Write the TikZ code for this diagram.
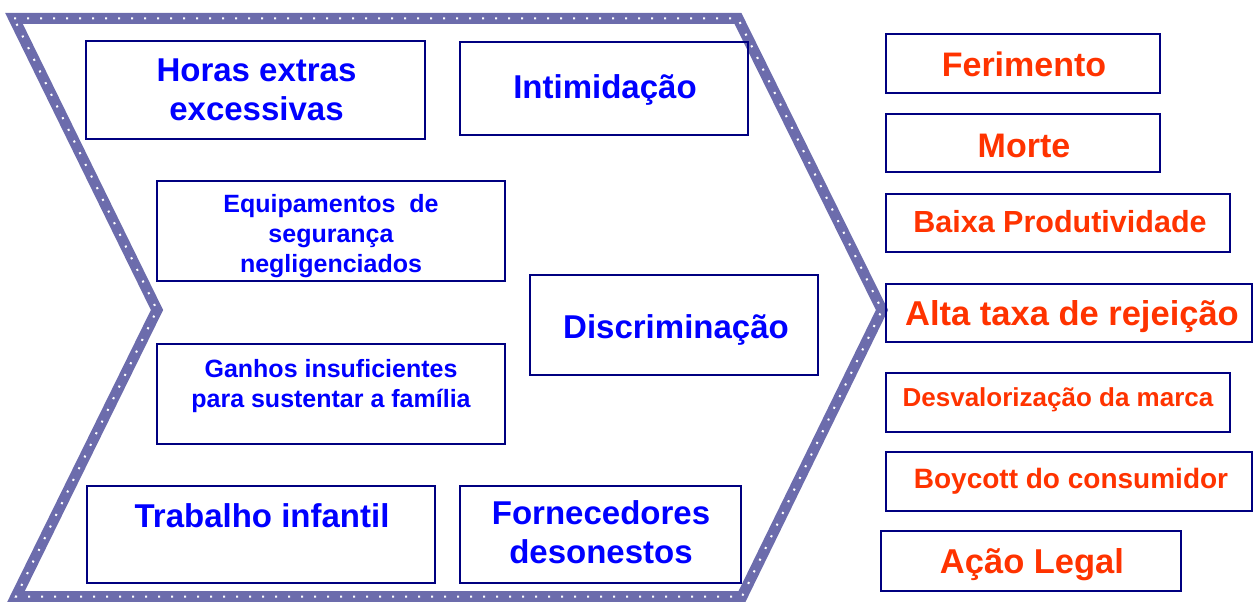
\documentclass[tikz,border=0pt]{standalone}
\usepackage{fontspec}
\setmainfont{Liberation Sans}
\usepackage{tikz}
\pgfdeclarelayer{bg}
\pgfsetlayers{bg,main}
\definecolor{boxnavy}{RGB}{0,0,128}
\definecolor{causeblue}{RGB}{0,0,255}
\definecolor{effectred}{RGB}{255,51,0}
\definecolor{chevronblue}{RGB}{108,108,172}
\tikzset{
    every node/.style={inner sep=0mm}
}
\tikzset{causebox/.style={rectangle, draw=boxnavy, line width=2pt}}
\tikzset{causetext/.style={text=causeblue, font=\bfseries\fontsize{33}{39}\selectfont, align=center, anchor=base}}
\tikzset{smalltext/.style={causetext, font=\bfseries\fontsize{25}{30}\selectfont}}
\tikzset{effecttext/.style={text=effectred, font=\bfseries\fontsize{34}{40}\selectfont, anchor=base}}
\tikzset{chevron/.style={draw=chevronblue, line width=11pt}}
\tikzset{chevrondots/.style={draw=white, line width=2pt, dash pattern=on 2pt off 11pt}}

\begin{document}
\begin{tikzpicture}[x=1pt, y=-1pt]
        \useasboundingbox (0,0) rectangle (1255,602);
        % causes
        \node (c1) [causebox, minimum width=339pt, minimum height=98pt] at (255.5, 90) {};
        \node (c2) [causebox, minimum width=288pt, minimum height=93pt] at (604, 88.5) {};
        \node (c3) [causebox, minimum width=348pt, minimum height=100pt] at (331, 231) {};
        \node (c4) [causebox, minimum width=288pt, minimum height=100pt] at (674, 325) {};
        \node (c5) [causebox, minimum width=348pt, minimum height=100pt] at (331, 394) {};
        \node (c6) [causebox, minimum width=348pt, minimum height=97pt] at (261, 534.5) {};
        \node (c7) [causebox, minimum width=281pt, minimum height=97pt] at (600.5, 534.5) {};
        % multi-line texts sit on the baseline of their last line
        \node (t1) [causetext] at (256.5, 120) {Horas extras\\excessivas};
        \node (t2) [causetext] at (605, 99) {Intimidação};
        \begin{scope}
                \clip (150,181) rectangle (510,277);
                \node (t3) [smalltext] at (331, 272) {Equipamentos\ \ de\\segurança\\negligenciados};
        \end{scope}
        \node (t4) [causetext] at (676, 338) {Discriminação};
        \node (t5) [smalltext] at (331, 407) {Ganhos insuficientes\\para sustentar a família};
        \node (t6) [causetext] at (262, 527) {Trabalho infantil};
        \node (t7) [causetext] at (601, 563) {Fornecedores\\desonestos};
        % effects
        \node (e1) [causebox, minimum width=274pt, minimum height=59pt] at (1023, 63.5) {};
        \node (e2) [causebox, minimum width=274pt, minimum height=58pt] at (1023, 143) {};
        \node (e3) [causebox, minimum width=344pt, minimum height=58pt] at (1058, 223) {};
        \node (e4) [causebox, minimum width=366pt, minimum height=58pt] at (1069, 313) {};
        \node (e5) [causebox, minimum width=344pt, minimum height=59pt] at (1058, 402.5) {};
        \node (e6) [causebox, minimum width=366pt, minimum height=59pt] at (1069, 481.5) {};
        \node (e7) [causebox, minimum width=300pt, minimum height=60pt] at (1031, 561) {};
        \node (f1) [effecttext] at (1024, 77) {Ferimento};
        \node (f2) [effecttext] at (1024, 157) {Morte};
        \node (f3) [effecttext, font=\bfseries\fontsize{30.5}{35}\selectfont] at (1060, 232) {Baixa Produtividade};
        \node (f4) [effecttext, font=\bfseries\fontsize{34.5}{40}\selectfont] at (1072, 325) {Alta taxa de rejeição};
        \node (f5) [effecttext, font=\bfseries\fontsize{26}{31}\selectfont] at (1058, 406) {Desvalorização da marca};
        \node (f6) [effecttext, font=\bfseries\fontsize{28}{33}\selectfont] at (1071, 488) {Boycott do consumidor};
        \node (f7) [effecttext, font=\bfseries\fontsize{34.5}{40}\selectfont] at (1032, 573) {Ação Legal};
        \begin{pgfonlayer}{bg}
                \coordinate (p0) at (14, 18.5);
                \coordinate (p1) at (738, 18.5);
                \coordinate (p2) at (882, 310);
                \coordinate (p3) at (742, 596.5);
                \coordinate (p4) at (16, 596.5);
                \coordinate (p5) at (157, 310);
                \draw [chevron] (p0) -- (p1) -- (p2) -- (p3) -- (p4) -- (p5) -- cycle;
                \draw [chevrondots] (p0) -- (p1) -- (p2) -- (p3) -- (p4) -- (p5) -- cycle;
        \end{pgfonlayer}
\end{tikzpicture}
\end{document}
